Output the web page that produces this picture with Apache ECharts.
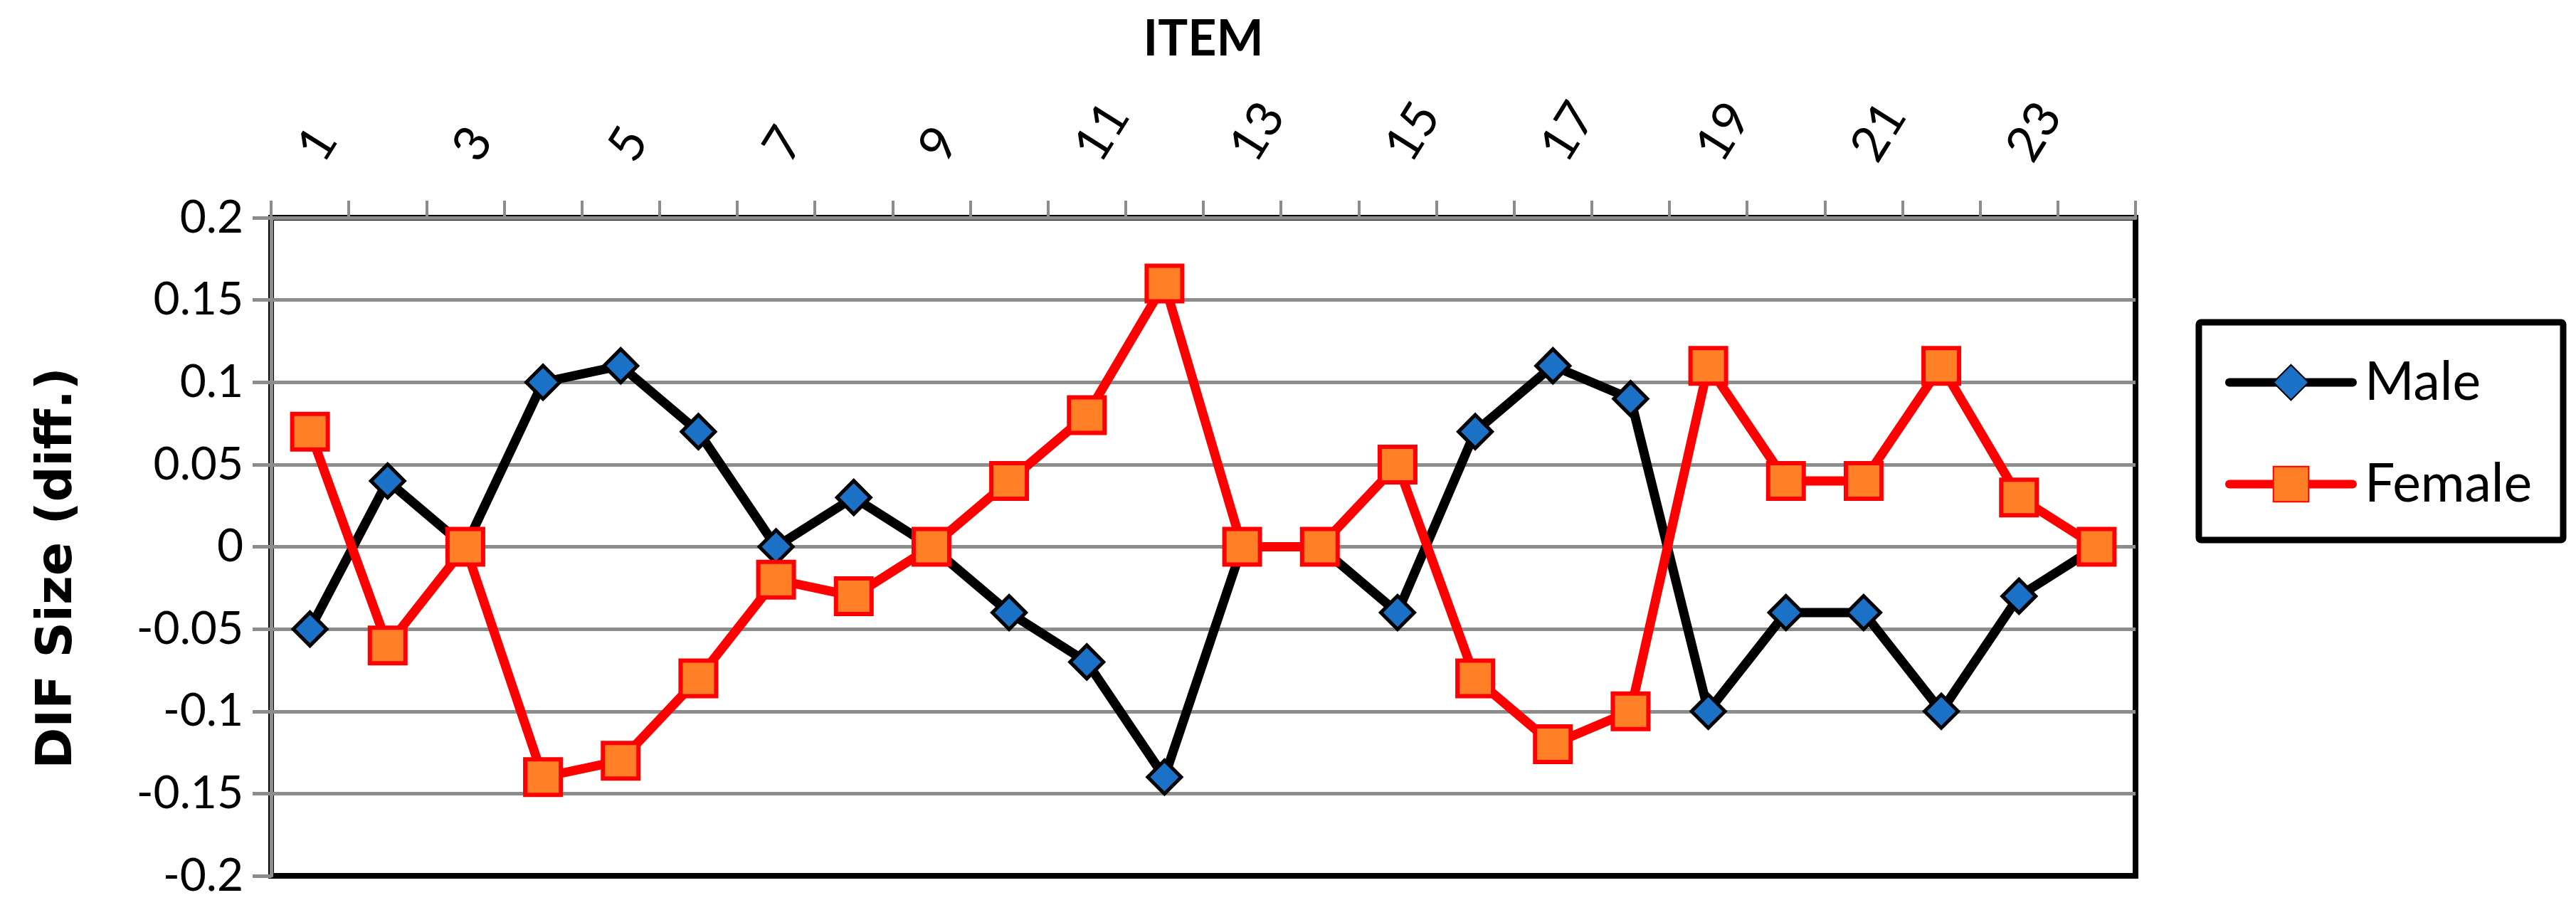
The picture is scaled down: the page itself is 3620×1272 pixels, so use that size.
<!DOCTYPE html>
<html>
<head>
<meta charset="utf-8">
<title>DIF Size by item</title>
<script src="https://cdn.jsdelivr.net/npm/echarts@6/dist/echarts.min.js"></script>
<style>
  html, body { margin: 0; padding: 0; background: #fff; }
  #chart { width: 3620px; height: 1272px; }
</style>
</head>
<body>
<div id="chart"></div>
<script>
// item numbers along the top axis
var items = ['1', '2', '3', '4', '5', '6', '7', '8', '9', '10', '11', '12',
             '13', '14', '15', '16', '17', '18', '19', '20', '21', '22', '23', '24'];
// DIF size per item
var male   = [-0.05, 0.04, 0, 0.10, 0.11, 0.07, 0, 0.03, 0, -0.04, -0.07, -0.14,
              0, 0, -0.04, 0.07, 0.11, 0.09, -0.10, -0.04, -0.04, -0.10, -0.03, 0];
var female = [0.07, -0.06, 0, -0.14, -0.13, -0.08, -0.02, -0.03, 0, 0.04, 0.08, 0.16,
              0, 0, 0.05, -0.08, -0.12, -0.10, 0.11, 0.04, 0.04, 0.11, 0.03, 0];
// value axis ticks
var yTicks = [-0.2, -0.15, -0.1, -0.05, 0, 0.05, 0.1, 0.15, 0.2];

var chart = echarts.init(document.getElementById('chart'));
var grey = '#8c8c8c';

option = {
    animation: false,
    backgroundColor: '#fff',
    grid: {
        left: 381,
        right: 619,
        top: 306,
        bottom: 41,
        show: true,
        borderColor: '#000',
        borderWidth: 8,
        containLabel: false,
        outerBoundsMode: 'none'
    },
    legend: {
        orient: 'vertical',
        right: 18,
        top: 453,
        data: ['Male', 'Female'],
        itemWidth: 173,
        itemHeight: 62,
        itemGap: 68,
        padding: [47, 44, 41, 37],
        borderColor: '#000',
        borderWidth: 9,
        borderRadius: 3,
        lineStyle: { width: 12, cap: 'round' },
        textStyle: {
            color: '#000',
            fontFamily: 'Lato',
            fontSize: 75,
            lineHeight: 62,
            padding: [0, 0, 0, 12]
        }
    },
    xAxis: {
        type: 'category',
        position: 'top',
        data: items,
        boundaryGap: true,
        name: 'ITEM',
        nameLocation: 'middle',
        nameGap: 216,
        nameMoveOverlap: false,
        nameTextStyle: {
            color: '#000',
            fontFamily: 'Lato',
            fontWeight: 'bold',
            fontSize: 70
        },
        axisLine: { show: true, onZero: false, lineStyle: { color: grey, width: 5 } },
        axisTick: {
            show: true,
            interval: 0,
            length: 24,
            lineStyle: { color: grey, width: 4 }
        },
        axisLabel: {
            interval: 1,
            rotate: -58,
            margin: 86,
            color: '#000',
            fontFamily: 'Lato',
            fontSize: 70
        },
        splitLine: { show: false }
    },
    yAxis: {
        type: 'value',
        min: yTicks[0],
        max: yTicks[yTicks.length - 1],
        interval: 0.05,
        name: 'DIF Size (diff.)',
        nameLocation: 'middle',
        nameGap: 264,
        nameMoveOverlap: false,
        nameTextStyle: {
            color: '#000',
            fontFamily: 'DejaVu Sans',
            fontWeight: 'bold',
            fontSize: 70,
            padding: [0, 60, 0, 0]
        },
        axisLine: { show: true, lineStyle: { color: grey, width: 5 } },
        axisTick: {
            show: true,
            length: 26,
            lineStyle: { color: grey, width: 5 }
        },
        axisLabel: {
            margin: 39,
            color: '#000',
            fontFamily: 'Lato',
            fontSize: 64,
            formatter: function (v) { return String(+v.toFixed(2)); }
        },
        splitLine: {
            show: true,
            showMinLine: false,
            lineStyle: { color: grey, width: 5 }
        }
    },
    series: [
        {
            name: 'Male',
            type: 'line',
            data: male,
            symbol: 'diamond',
            symbolSize: 47,
            lineStyle: { color: '#000', width: 13 },
            itemStyle: { color: '#1b71c5', borderColor: '#000', borderWidth: 5 }
        },
        {
            name: 'Female',
            type: 'line',
            data: female,
            symbol: 'rect',
            symbolSize: 50,
            lineStyle: { color: '#ff0000', width: 13 },
            itemStyle: { color: '#ff7f27', borderColor: '#ff0000', borderWidth: 6 }
        }
    ]
};
chart.setOption(option);
</script>
</body>
</html>
